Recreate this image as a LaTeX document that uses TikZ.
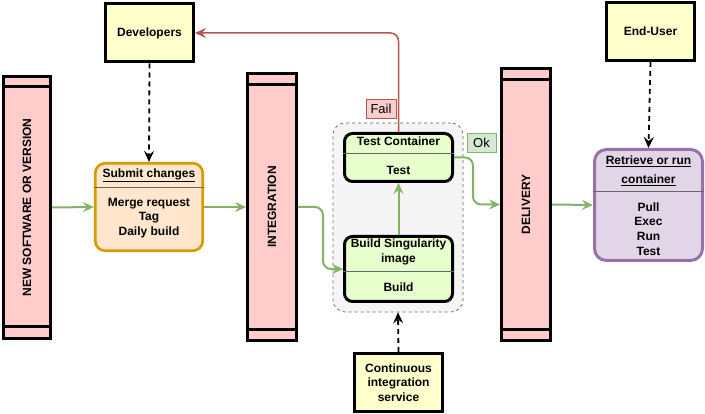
\documentclass[tikz,border=0pt]{standalone}
\usepackage{fontspec}
\setmainfont{Liberation Sans}
\usetikzlibrary{arrows.meta}
\definecolor{barpink}{HTML}{FFCCCC}
\definecolor{noteyellow}{HTML}{FFFFCC}
\definecolor{orangefill}{HTML}{FFE6CC}
\definecolor{orangeline}{HTML}{D79B00}
\definecolor{stepgreen}{HTML}{E6FFCC}
\definecolor{groupgray}{HTML}{F5F5F5}
\definecolor{purplefill}{HTML}{E1D5E7}
\definecolor{purpleline}{HTML}{9673A6}
\definecolor{flowgreen}{HTML}{82B366}
\definecolor{okfill}{HTML}{D5E8D4}
\definecolor{failred}{HTML}{B85450}
\definecolor{failfill}{HTML}{F8CECC}
\tikzstyle{stagebar} = [draw, fill=barpink, line width=3pt, inner sep=0]
\tikzstyle{barline} = [line width=3pt]
\tikzstyle{actor} = [draw, fill=noteyellow, line width=3pt, minimum width=88pt, minimum height=58pt, inner sep=0, align=center]
\tikzstyle{stepbox} = [draw, fill=stepgreen, line width=3pt, rounded corners=8pt, minimum width=108pt, inner sep=0]
\tikzstyle{sepline} = [draw=black!60, line width=0.8pt]
\tikzstyle{flow} = [-{Stealth[length=11pt, width=10pt, inset=4pt]}, line width=2pt, draw=flowgreen]
\tikzstyle{trigger} = [-{Stealth[length=11pt, width=10pt, inset=4pt]}, line width=1.8pt, dash pattern=on 5pt off 4pt]
\tikzstyle{tag} = [draw, inner sep=0, minimum width=29pt, minimum height=19pt, font=\fontsize{13}{15}\selectfont\mdseries]

\begin{document}
\begin{tikzpicture}[x=1pt, y=-1pt, font=\fontsize{12}{14.5}\selectfont\bfseries]
      \useasboundingbox (0, 0) rectangle (705, 414);

      \node[actor] (devs) at (149.5, 33) {Developers};
      \node[actor] (enduser) at (650.5, 31.5) {End-User};
      \node[actor] (cis) at (398.5, 382.5) {Continuous\\integration\\service};

      \node[stagebar, minimum width=47pt, minimum height=262pt] (newsw) at (27, 207.5) {};
      \draw[barline] ([yshift=-12pt]newsw.north west) -- ([yshift=-12pt]newsw.north east);
      \draw[barline] ([yshift=13pt]newsw.south west) -- ([yshift=13pt]newsw.south east);
      \node[rotate=90] at (newsw) {NEW SOFTWARE OR VERSION};

      \node[stagebar, minimum width=49pt, minimum height=267pt] (integ) at (272, 207) {};
      \draw[barline] ([yshift=-12.5pt]integ.north west) -- ([yshift=-12.5pt]integ.north east);
      \draw[barline] ([yshift=12pt]integ.south west) -- ([yshift=12pt]integ.south east);
      \node[rotate=90] at (integ) {INTEGRATION};

      \node[stagebar, minimum width=49pt, minimum height=272pt] (deliv) at (526, 204.5) {};
      \draw[barline] ([yshift=-12.5pt]deliv.north west) -- ([yshift=-12.5pt]deliv.north east);
      \draw[barline] ([yshift=12.5pt]deliv.south west) -- ([yshift=12.5pt]deliv.south east);
      \node[rotate=90] at (deliv) {DELIVERY};

      \node[draw=orangeline, fill=orangefill, line width=2.7pt, rounded corners=10pt, minimum width=107.5pt, minimum height=87.5pt] (submit) at (149, 207) {};
      \node at (149, 175) {\underline{Submit changes}};
      \draw[sepline] ([yshift=-26pt]submit.north west) -- ([yshift=-26pt]submit.north east);
      \node[align=center] at (149, 218) {Merge request\\Tag\\Daily build};

      \node[draw=black!60, fill=groupgray, dashed, line width=0.7pt, rounded corners=12pt, minimum width=130pt, minimum height=189pt] (group) at (398, 217.5) {};

      \node[stepbox, minimum height=48pt] (test) at (398.5, 157.5) {};
      \node at (398.5, 141) {Test Container};
      \draw[sepline] ([yshift=-21.5pt]test.north west) -- ([yshift=-21.5pt]test.north east);
      \node at (398.5, 170) {Test};

      \node[stepbox, minimum height=65pt] (build) at (398.5, 269) {};
      \node[align=center] at (398.5, 252) {Build Singularity\\image};
      \draw[sepline] ([yshift=-36.5pt]build.north west) -- ([yshift=-36.5pt]build.north east);
      \node at (398.5, 287) {Build};

      \node[draw=purpleline, fill=purplefill, line width=3pt, rounded corners=12pt, minimum width=108pt, minimum height=111pt] (retr) at (648.5, 205) {};
      \node[align=center] at (648.5, 170.5) {\underline{Retrieve or run}\\[4.5pt]\underline{container}};
      \draw[sepline] ([yshift=-43.5pt]retr.north west) -- ([yshift=-43.5pt]retr.north east);
      \node[align=center, font=\fontsize{12}{14.7}\selectfont\bfseries] at (648.5, 229) {Pull\\Exec\\Run\\Test};

      \node[tag, draw=failred, fill=failfill, minimum width=30pt] (fail) at (381, 108.5) {Fail};
      \node[tag, draw=flowgreen, fill=okfill] (ok) at (481.5, 142.5) {Ok};

      \draw[flow] (newsw.east) -- (submit.west);
      \draw[flow] (submit.east) -- (integ.west);
      \draw[flow, rounded corners=8pt] (integ.east) -- ++(25, 0) |- (build.west);
      \draw[flow] (build.north) -- (test.south);
      \draw[flow, rounded corners=8pt] (test.east) -- ++(19, 0) |- (deliv.west);
      \draw[flow] (deliv.east) -- (retr.west);
      \draw[-{Stealth[length=11pt, width=10pt, inset=4pt]}, line width=1.5pt, draw=failred, rounded corners=8pt] (test.north) |- (devs.east);

      \draw[trigger] (devs.south) -- (submit.north);
      \draw[trigger] (enduser.south) -- (retr.north);
      \draw[trigger] (cis.north) -- (group.south);
    \end{tikzpicture}
\end{document}
